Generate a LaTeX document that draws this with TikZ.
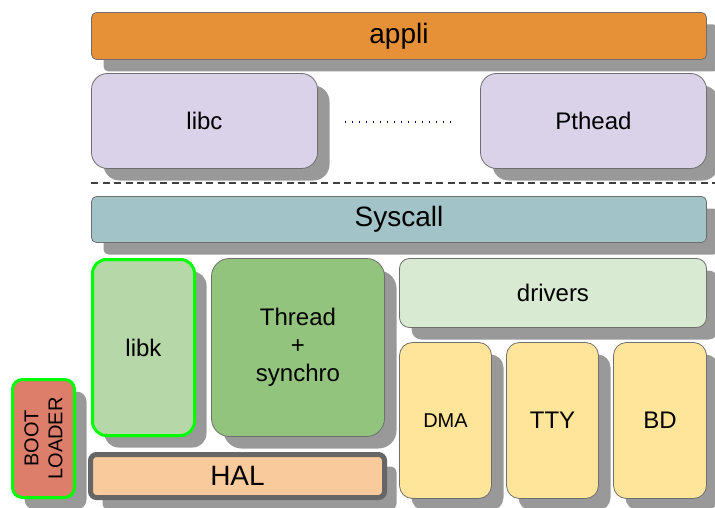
\documentclass[tikz,border=0pt]{standalone}
\usepackage{fontspec}
\setmainfont{Liberation Sans}
\usetikzlibrary{shadows}

\definecolor{edge}{HTML}{6E6E6E}
\definecolor{shade}{HTML}{999999}
\definecolor{hot}{HTML}{00FF00}
\definecolor{halrim}{HTML}{666666}
\definecolor{cappli}{HTML}{E69138}
\definecolor{clib}{HTML}{D9D2E9}
\definecolor{csys}{HTML}{A2C4C9}
\definecolor{clibk}{HTML}{B6D7A8}
\definecolor{cthr}{HTML}{93C47D}
\definecolor{cdrv}{HTML}{D9EAD3}
\definecolor{cdev}{HTML}{FFE599}
\definecolor{chal}{HTML}{F9CB9C}
\definecolor{cboot}{HTML}{DD7E6B}

\begin{document}
\begin{tikzpicture}[x=1pt,y=-1pt,
    blk/.style={draw=edge, line width=0.8pt, rounded corners=#1, inner sep=0pt,
      align=center, font=\fontsize{24}{28}\selectfont,
      drop shadow={shadow xshift=12pt, shadow yshift=-12pt, fill=shade, opacity=1}},
    blk/.default=12pt,
    big/.style={font=\fontsize{28}{32}\selectfont}]
  \useasboundingbox (0,0) rectangle (715,508);

  % user space
  \node[blk=5pt, big, fill=cappli, minimum width=615pt, minimum height=47pt] (appli) at (399,36) {appli};
  \node[blk=16pt, fill=clib, minimum width=226pt, minimum height=95pt] (libc) at (204.5,121) {libc};
  \node[blk=16pt, fill=clib, minimum width=226pt, minimum height=95pt] (pthead) at (593.5,121) {Pthead};
  \coordinate (dots-l) at (345,122);
  \coordinate (dots-r) at (452,122);
  \draw[color=blue!40!black, line width=1.6pt, dash pattern=on 1.4pt off 5.6pt] (dots-l) -- (dots-r);

  % user / kernel boundary
  \coordinate (sep-l) at (91,183);
  \coordinate (sep-r) at (715,183);
  \draw[color=black!75, line width=2pt, dash pattern=on 7pt off 4.5pt] (sep-l) -- (sep-r);

  % kernel
  \node[blk=5pt, big, fill=csys, minimum width=615pt, minimum height=46pt] (syscall) at (399,219.5) {Syscall};
  \node[blk=14pt, fill=clibk, draw=hot, line width=3pt, minimum width=102pt, minimum height=176pt] (libk) at (143.5,347.5) {libk};
  \node[blk=18pt, fill=cthr, minimum width=173pt, minimum height=178pt] (thread) at (298,347.5) {Thread\\+\\synchro};
  \node[blk=10pt, fill=cdrv, minimum width=307pt, minimum height=69pt] (drivers) at (553,293) {drivers};
  \node[blk=13pt, fill=cdev, minimum width=92pt, minimum height=156pt, font=\fontsize{20}{24}\selectfont] (dma) at (445.5,420.5) {DMA};
  \node[blk=13pt, fill=cdev, minimum width=92pt, minimum height=156pt] (tty) at (552.5,420.5) {TTY};
  \node[blk=13pt, fill=cdev, minimum width=93pt, minimum height=156pt] (bd) at (660,420.5) {BD};
  \node[blk=6pt, big, fill=chal, draw=halrim, line width=5pt, minimum width=294pt, minimum height=43pt] (hal) at (237.5,476) {HAL};

  % boot loader
  \node[blk=10pt, fill=cboot, draw=hot, line width=3pt, minimum width=62pt, minimum height=118pt] (boot) at (43.5,438.5) {};
  \node[rotate=90, align=center, font=\fontsize{20}{24}\selectfont] (boot-txt) at (boot.center) {BOOT\\LOADER};
\end{tikzpicture}
\end{document}
